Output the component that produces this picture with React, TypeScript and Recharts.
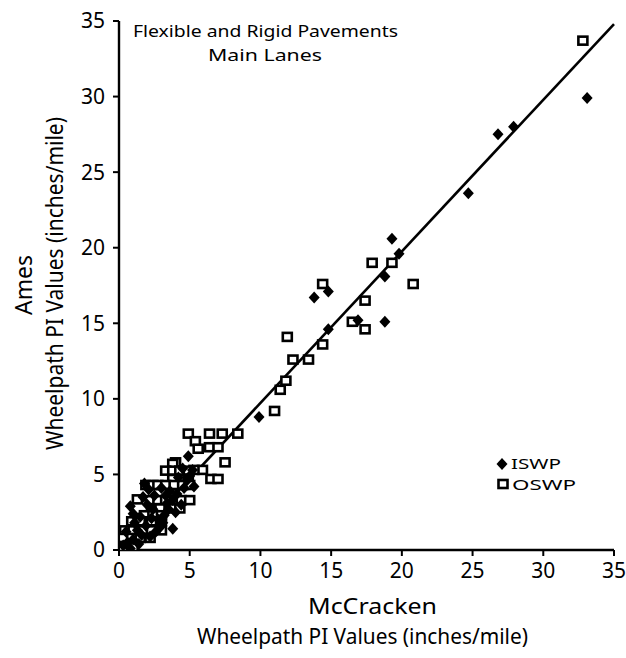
import React from 'react';
import { ScatterChart, Scatter, XAxis, YAxis, ReferenceLine } from 'recharts';

interface Pt {
  x: number;
  y: number;
}

const axisTicks = [0, 5, 10, 15, 20, 25, 30, 35];

// ISWP = inside wheelpath, OSWP = outside wheelpath
const iswp: Pt[] = [
  { x: 33.1, y: 29.9 }, { x: 27.9, y: 28.0 }, { x: 26.8, y: 27.5 }, { x: 24.7, y: 23.6 },
  { x: 19.3, y: 20.6 }, { x: 19.8, y: 19.6 }, { x: 18.8, y: 18.1 }, { x: 14.8, y: 17.1 },
  { x: 13.8, y: 16.7 }, { x: 16.9, y: 15.2 }, { x: 18.8, y: 15.1 }, { x: 14.8, y: 14.6 },
  { x: 9.9, y: 8.8 }, { x: 4.9, y: 6.2 }, { x: 3.8, y: 1.4 }, { x: 0.8, y: 2.9 },
  { x: 1.8, y: 4.4 }, { x: 0.3, y: 0.3 }, { x: 0.6, y: 0.5 }, { x: 1.0, y: 0.7 },
  { x: 1.3, y: 1.3 }, { x: 1.6, y: 1.0 }, { x: 1.9, y: 1.6 }, { x: 2.2, y: 0.9 },
  { x: 2.6, y: 1.2 }, { x: 2.8, y: 2.0 }, { x: 3.2, y: 2.3 }, { x: 3.5, y: 2.7 },
  { x: 3.4, y: 3.1 }, { x: 3.8, y: 3.3 }, { x: 4.1, y: 3.7 }, { x: 4.4, y: 3.0 },
  { x: 4.6, y: 4.1 }, { x: 2.5, y: 3.6 }, { x: 2.0, y: 3.0 }, { x: 1.5, y: 2.2 },
  { x: 1.1, y: 1.8 }, { x: 3.0, y: 4.1 }, { x: 4.2, y: 4.8 }, { x: 5.2, y: 5.3 },
  { x: 4.8, y: 4.6 }, { x: 2.9, y: 1.5 }, { x: 2.4, y: 2.7 }, { x: 3.6, y: 3.9 },
  { x: 1.7, y: 3.5 }, { x: 2.1, y: 4.0 }, { x: 4.5, y: 5.4 }, { x: 5.0, y: 4.9 },
  { x: 3.3, y: 3.6 }, { x: 0.5, y: 1.2 }, { x: 1.0, y: 2.4 }, { x: 1.4, y: 0.4 },
  { x: 2.3, y: 2.1 }, { x: 3.1, y: 1.8 }, { x: 5.3, y: 4.2 }, { x: 4.0, y: 2.5 },
  { x: 0.8, y: 0.1 },
];

const oswp: Pt[] = [
  { x: 32.8, y: 33.7 }, { x: 17.9, y: 19.0 }, { x: 19.3, y: 19.0 }, { x: 20.8, y: 17.6 },
  { x: 14.4, y: 17.6 }, { x: 17.4, y: 16.5 }, { x: 16.5, y: 15.1 }, { x: 17.4, y: 14.6 },
  { x: 11.9, y: 14.1 }, { x: 14.4, y: 13.6 }, { x: 12.3, y: 12.6 }, { x: 13.4, y: 12.6 },
  { x: 11.8, y: 11.2 }, { x: 11.4, y: 10.6 }, { x: 11.0, y: 9.2 },
  { x: 4.9, y: 7.7 }, { x: 6.4, y: 7.7 }, { x: 7.3, y: 7.7 }, { x: 8.4, y: 7.7 },
  { x: 5.4, y: 7.2 }, { x: 6.4, y: 6.8 }, { x: 7.0, y: 6.8 }, { x: 5.6, y: 6.7 },
  { x: 7.5, y: 5.8 }, { x: 4.0, y: 5.8 }, { x: 6.5, y: 4.7 }, { x: 7.0, y: 4.7 },
  { x: 5.9, y: 5.3 }, { x: 5.3, y: 5.3 },
  { x: 3.8, y: 5.7 }, { x: 3.3, y: 5.25 }, { x: 3.8, y: 5.25 }, { x: 4.3, y: 5.25 },
  { x: 4.9, y: 5.25 }, { x: 3.8, y: 4.7 }, { x: 4.4, y: 4.7 }, { x: 4.9, y: 4.7 },
  { x: 1.9, y: 4.3 }, { x: 2.4, y: 4.3 }, { x: 2.75, y: 4.3 }, { x: 3.3, y: 4.3 },
  { x: 3.9, y: 4.3 }, { x: 4.5, y: 4.3 }, { x: 5.0, y: 4.3 }, { x: 1.3, y: 3.35 },
  { x: 2.2, y: 3.3 }, { x: 2.75, y: 3.3 }, { x: 3.3, y: 3.3 }, { x: 3.9, y: 3.3 },
  { x: 4.4, y: 3.3 }, { x: 5.0, y: 3.3 }, { x: 2.3, y: 2.75 }, { x: 2.9, y: 2.75 },
  { x: 3.7, y: 2.75 }, { x: 4.3, y: 2.75 }, { x: 1.8, y: 2.3 }, { x: 2.4, y: 2.3 },
  { x: 3.0, y: 2.3 }, { x: 0.9, y: 1.9 }, { x: 1.5, y: 1.9 }, { x: 2.3, y: 1.9 },
  { x: 3.0, y: 1.9 }, { x: 0.4, y: 1.3 }, { x: 1.0, y: 1.3 }, { x: 1.7, y: 1.3 },
  { x: 2.3, y: 1.3 }, { x: 3.0, y: 1.3 }, { x: 0.3, y: 0.8 }, { x: 0.9, y: 0.8 },
  { x: 1.5, y: 0.8 }, { x: 2.2, y: 0.8 }, { x: 0.3, y: 0.2 }, { x: 1.0, y: 0.2 },
];

// fitted line end points
const fitLine: Pt[] = [
  { x: 0.5, y: 0.2 },
  { x: 35, y: 34.8 },
];

const FONT = '"Noto Sans", "DejaVu Sans", sans-serif';

function diamond(cx: number, cy: number) {
  return (
    <polygon
      points={`${cx},${cy - 6} ${cx + 5.5},${cy} ${cx},${cy + 6} ${cx - 5.5},${cy}`}
      fill="#000"
    />
  );
}

function square(cx: number, cy: number) {
  return <rect x={cx - 4.5} y={cy - 4} width={9} height={8} fill="#fff" stroke="#000" strokeWidth={2.6} />;
}

const DiamondShape = (props: any) => diamond(props.cx, props.cy);
const SquareShape = (props: any) => square(props.cx, props.cy);

export default function App() {
  const tick = { fill: '#000', fontSize: 21, fontFamily: FONT };
  return (
    <div style={{ position: 'absolute', left: 0, top: 0, width: 626, height: 658, background: '#fff' }}>
      <ScatterChart width={626} height={658} margin={{ top: 21, right: 12, left: 0, bottom: 0 }}>
        <XAxis
          type="number"
          dataKey="x"
          domain={[0, 35]}
          ticks={axisTicks}
          height={108}
          tickSize={6}
          tickMargin={7}
          tick={tick}
          axisLine={{ stroke: '#000', strokeWidth: 2.4 }}
          tickLine={{ stroke: '#000', strokeWidth: 2 }}
          allowDataOverflow
        />
        <YAxis
          type="number"
          dataKey="y"
          domain={[0, 35]}
          ticks={axisTicks}
          width={119}
          tickSize={6}
          tickMargin={8}
          tick={tick}
          axisLine={{ stroke: '#000', strokeWidth: 2.4 }}
          tickLine={{ stroke: '#000', strokeWidth: 2 }}
          allowDataOverflow
        />
        <ReferenceLine
          segment={fitLine}
          stroke="#000"
          strokeWidth={2.6}
          ifOverflow="visible"
        />
        <Scatter name="OSWP" data={oswp} shape={SquareShape} isAnimationActive={false} />
        <Scatter name="ISWP" data={iswp} shape={DiamondShape} isAnimationActive={false} />
      </ScatterChart>

      <svg
        width={626}
        height={658}
        style={{ position: 'absolute', left: 0, top: 0, pointerEvents: 'none' }}
        fontFamily={FONT}
        fill="#000"
      >
        <text x={133} y={37} fontSize={17} textLength={265} lengthAdjust="spacingAndGlyphs">
          Flexible and Rigid Pavements
        </text>
        <text x={208} y={61} fontSize={17} textLength={114} lengthAdjust="spacingAndGlyphs">
          Main Lanes
        </text>

        <text x={308} y={614} fontSize={21} textLength={129} lengthAdjust="spacingAndGlyphs">
          McCracken
        </text>
        <text x={197} y={644} fontSize={21} textLength={331} lengthAdjust="spacingAndGlyphs">
          Wheelpath PI Values (inches/mile)
        </text>

        <text transform="translate(32,315) rotate(-90)" fontSize={24} textLength={60} lengthAdjust="spacingAndGlyphs">
          Ames
        </text>
        <text transform="translate(63,450) rotate(-90)" fontSize={24} textLength={333} lengthAdjust="spacingAndGlyphs">
          Wheelpath PI Values (inches/mile)
        </text>

        {diamond(502, 464)}
        <text x={511} y={469} fontSize={15} textLength={50} lengthAdjust="spacingAndGlyphs">
          ISWP
        </text>
        {square(503, 484)}
        <text x={512} y={490} fontSize={15} textLength={64} lengthAdjust="spacingAndGlyphs">
          OSWP
        </text>
      </svg>
    </div>
  );
}
